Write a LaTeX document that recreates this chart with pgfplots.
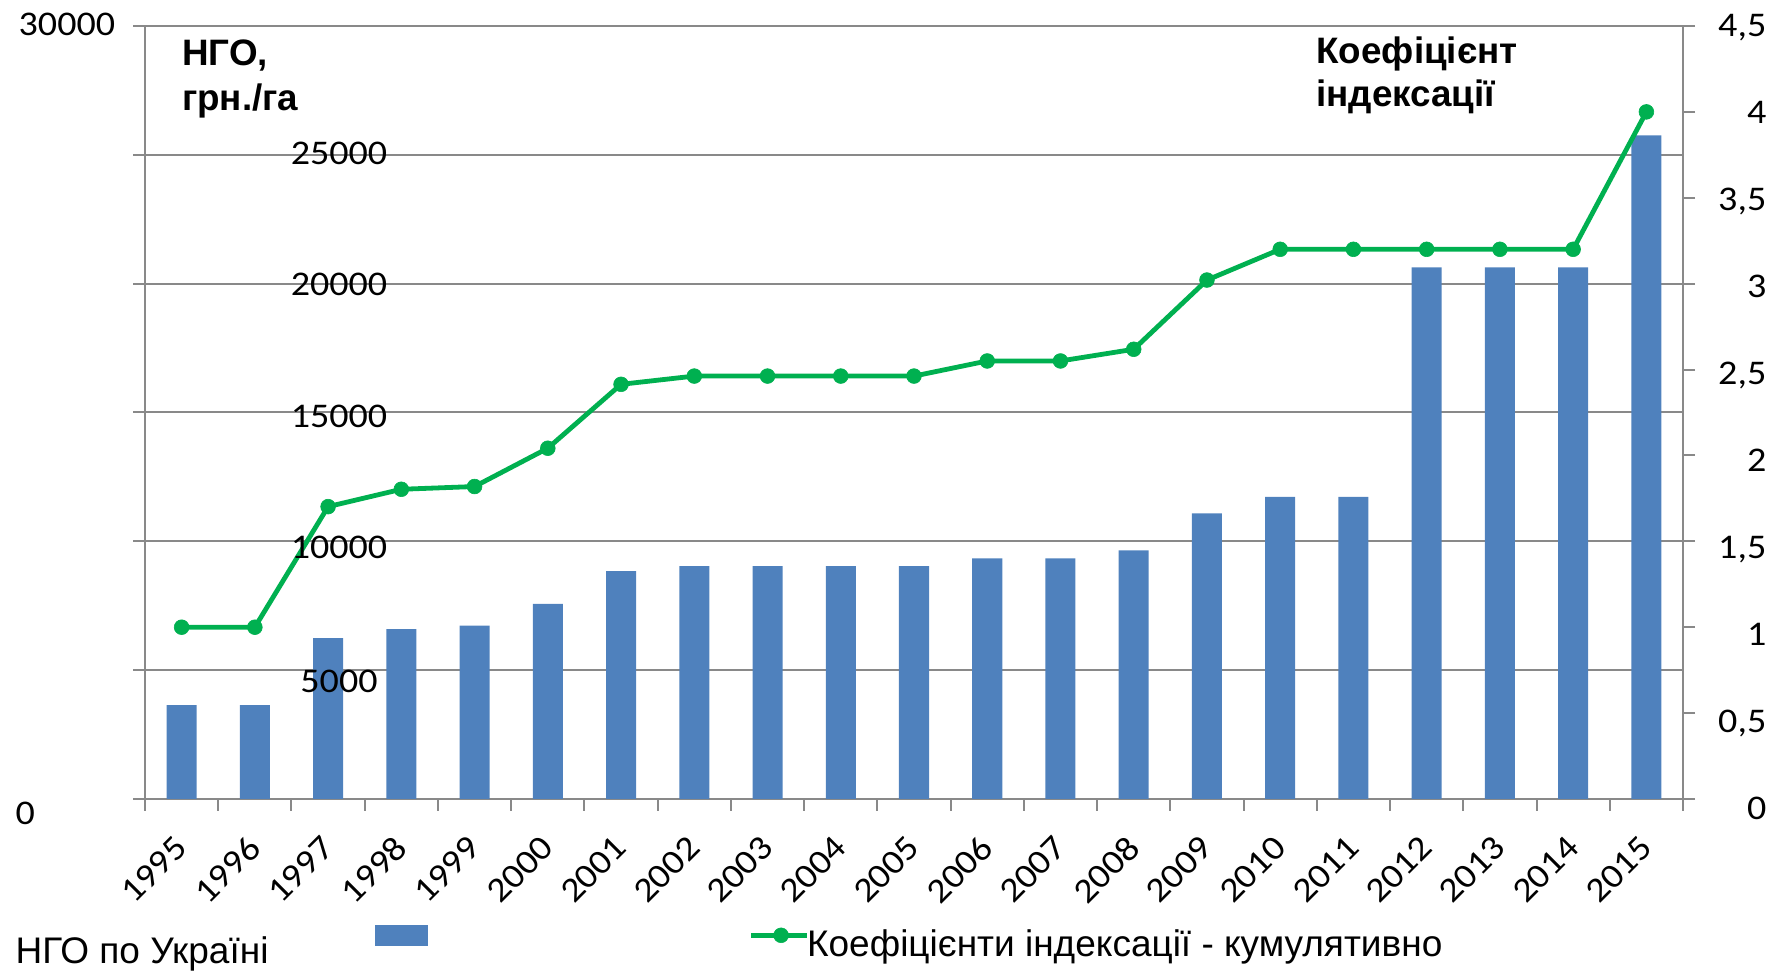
\documentclass[border=0pt]{standalone}
\usepackage{fontspec}
\setmainfont{Carlito}
\newfontfamily\tickfam{Carlito}[FakeStretch=1.1]
\newfontfamily\arialfont{Liberation Sans}
\usepackage{pgfplots}
\pgfplotsset{compat=1.18}
\definecolor{barblue}{HTML}{4F81BD}
\definecolor{lgreen}{HTML}{00B050}
\definecolor{axgray}{HTML}{898989}
\newcommand\tickfont{\tickfam\fontsize{17.3}{17.3}\selectfont}
\pgfplotsset{
  mylineleg/.style={legend image code/.code={\draw[##1, mark repeat=2, mark phase=2] plot coordinates {(0pt,0pt) (15pt,0pt) (27.9pt,0pt)};}},
  mybarleg/.style={legend image code/.code={\fill[barblue] (0pt,-5.15pt) rectangle (25.8pt,5.15pt);}},
}
\begin{document}
\begin{tikzpicture}
\begin{axis}[
  at={(0pt,0pt)}, anchor=south west,
  scale only axis, width=769pt, height=386.5pt,
  xmin=-0.5, xmax=20.5, ymin=0, ymax=30000,
  axis x line*=bottom, axis y line*=left,
  axis line style={draw=axgray, line width=1pt, -},
  tick style={draw=axgray, line width=1pt},
  tick align=outside, major tick length=6pt,
  ytick={0,5000,...,30000}, yticklabels={}, scaled y ticks=false,
  ymajorgrids, grid style={draw=axgray, line width=1pt},
  xtick={-0.5,0.5,...,20.5}, xticklabels={},
  extra x ticks={0,1,...,20},
  extra x tick labels={1995,1996,1997,1998,1999,2000,2001,2002,2003,2004,2005,2006,2007,2008,2009,2010,2011,2012,2013,2014,2015},
  extra x tick style={major tick length=0pt, tick label style={font=\tickfont, yshift=-21.5pt, rotate=45, anchor=east, inner sep=0pt}},
]
\addplot[ybar, bar width=0.41, fill=barblue, draw=none] coordinates {
(0,3645) (1,3645) (2,6244) (3,6593) (4,6732) (5,7570) (6,8842) (7,9036) (8,9036) (9,9036) (10,9036)
(11,9335) (12,9335) (13,9645) (14,11080) (15,11724) (16,11724) (17,20631) (18,20631) (19,20631) (20,25750)};
\end{axis}
\begin{axis}[
  at={(0pt,0pt)}, anchor=south west,
  scale only axis, width=769pt, height=386.5pt,
  xmin=-0.5, xmax=20.5, ymin=0, ymax=4.5,
  axis x line=none, axis y line*=right,
  axis line style={draw=axgray, line width=1pt, -},
  tick style={draw=axgray, line width=1pt},
  tick align=outside, major tick length=6pt,
  ytick={0,0.5,...,4.5}, yticklabels={}, scaled y ticks=false,
  legend columns=2,
  legend style={draw=none, fill=none, inner xsep=0pt, inner ysep=0pt, outer sep=0pt,
    /tikz/column sep=0pt, nodes={inner sep=0pt, text depth=0pt},
    at={(0.14954,-0.17633)}, anchor=west},
]
\addlegendimage{mybarleg}
\addplot[lgreen, line width=2.4pt, mark=*, mark size=3.7pt,
  mark options={fill=lgreen, draw=lgreen, line width=0.3pt}, mylineleg]
coordinates {
(0,1.0) (1,1.0) (2,1.702) (3,1.803) (4,1.819) (5,2.042) (6,2.414) (7,2.462) (8,2.462) (9,2.462) (10,2.462)
(11,2.55) (12,2.55) (13,2.618) (14,3.021) (15,3.20) (16,3.20) (17,3.20) (18,3.20) (19,3.20) (20,4.0)};
\legend{\rule{160.65pt}{0pt},\rule{0pt}{0pt}}
\end{axis}
\begin{scope}[x=1pt,y=1pt]
% left axis labels
\node[anchor=base west, inner sep=0pt, font=\tickfont] at (-63.35,387-5.37) {30000};
\node[anchor=base west, inner sep=0pt, font=\tickfont] at (-64.85,-7.25-5.37) {0};
\foreach \t/\y in {25000/322.85, 20000/257, 15000/191.15, 10000/125.5, 5000/58.65}
  \node[anchor=base, inner sep=0pt, font=\tickfont] at (97,\y-5.37) {\t};
% right axis labels
\foreach \v/\t in {0/0,0.5/{0,5},1/1,1.5/{1,5},2/2,2.5/{2,5},3/3,3.5/{3,5},4/4,4.5/{4,5}}
  \node[anchor=base east, inner sep=0pt, font=\tickfont] at (810.85,{\v*85.889-5*(1-\v/4.5)-5.37}) {\t};
% titles
\node[anchor=base west, inner sep=0pt, font=\arialfont\bfseries\fontsize{18.4}{20}\selectfont] at (18.35,366.5) {НГО,};
\node[anchor=base west, inner sep=0pt, font=\arialfont\bfseries\fontsize{18.4}{20}\selectfont] at (18.35,344.15) {грн./га};
\node[anchor=base west, inner sep=0pt, font=\arialfont\bfseries\fontsize{18.4}{20}\selectfont] at (585.5,367.85) {Коефіцієнт};
\node[anchor=base west, inner sep=0pt, font=\arialfont\bfseries\fontsize{18.4}{20}\selectfont] at (585.5,346.15) {індексації};
% legend texts
\node[anchor=base west, inner sep=0pt, font=\arialfont\fontsize{18.5}{20}\selectfont] at (-64.85,-82.15) {НГО по Україні};
\node[anchor=base west, inner sep=0pt, font=\arialfont\fontsize{18.5}{20}\selectfont] at (330.85,-79) {Коефіцієнти індексації - кумулятивно};
\end{scope}
\pgfresetboundingbox
\path[use as bounding box] (-72.5pt,-87pt) rectangle (819pt,399.5pt);
\end{tikzpicture}
\end{document}
